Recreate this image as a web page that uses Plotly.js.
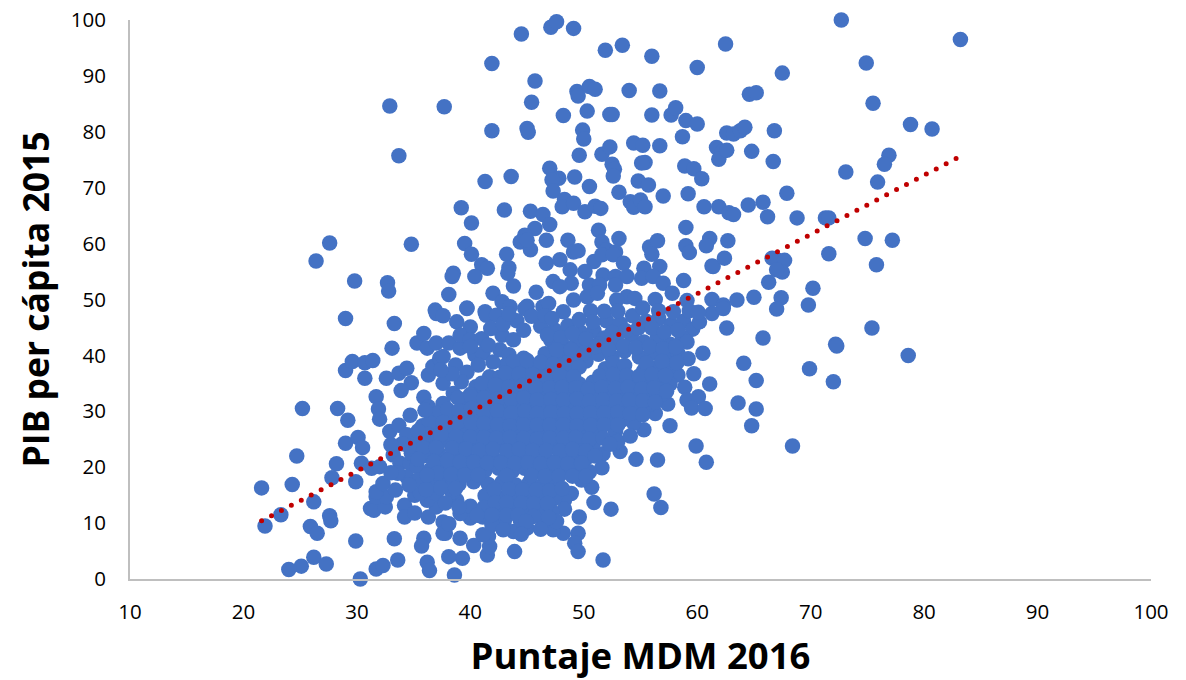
<!DOCTYPE html>
<html><head><meta charset="utf-8">
<script src="https://cdn.plot.ly/plotly-3.0.1.min.js"></script>
<style>html,body{margin:0;padding:0;background:#fff}</style></head>
<body><div id="chart" style="width:1186px;height:680px"></div>
<script>
const xAxisTitle = "Puntaje MDM 2016";
const yAxisTitle = "PIB per cápita 2015";
const puntosAltos = [[44.5,97.5],[47.1,98.7],[47.6,99.7],[49.1,98.5],[51.9,94.6],[53.4,95.5],[56,93.5],[60,91.5],[62.5,95.7],[41.9,92.2],[45.7,89.1],[49.4,87.2],[49.5,86.4],[50.5,88.1],[51,87.6],[54,87.4],[56.7,87.3],[37.7,84.5],[45.4,85.3],[48.2,82.9],[50.3,83.7],[52.3,83.1],[52.5,83.1],[56,83],[57.7,83],[58.1,84.3],[59,82],[60,81.4],[41.9,80.2],[45,80.6],[45.1,79.9],[49.9,80.3],[50,78.7],[58.7,79.1],[62.6,79.8],[61.7,77.2],[62.2,76.4],[61.9,75.1],[62.6,76.7],[49.6,75.8],[51.6,76],[52.3,77.3],[54.4,78],[55.2,77.6],[56.7,77.5],[55.4,74.5],[55.1,74.4],[52.5,74.2],[52.7,73.3],[52.6,72.1],[58.9,73.9],[59.7,73.4],[60.4,71.6],[47,73.5],[49.2,71.9],[47.8,71.7],[47.2,71.4],[47.3,69.4],[43.6,72],[41.3,71.1],[50.5,70.2],[54.8,71.2],[55.7,70.5],[53.1,69.2],[57,68.5],[59.2,68.9],[39.2,66.4],[43,66],[48.3,67.9],[48.1,66.6],[49.1,67.2],[50.1,65.7],[51,66.7],[51.5,66.3],[54.1,67.5],[54.4,66.5],[55,67.8],[55.4,66.6],[60.6,66.6],[61.9,66.6],[62.8,65.5]];
const puntosMedios = [[40.1,63.7],[45.3,65.8],[46.4,65.2],[47,63.4],[45.7,62.7],[44.8,61.5],[44.4,60.3],[45.3,58.9],[45,60.6],[46.7,60.6],[51.3,62.4],[59,62.9],[48.6,60.6],[51.6,60.3],[53.1,60.9],[49.1,58.5],[49.5,58.7],[52,58.9],[52.8,58.5],[55.8,59.4],[56.5,60.5],[56,58.1],[59,59.6],[59.3,58.4],[61.1,60.9],[60.8,59.6],[62.7,60.5],[39.5,60],[40.1,58.1],[43.2,58.1],[41,56.2],[41.5,55.6],[43.4,55.7],[43.3,54.7],[38.5,54.7],[38.4,54.1],[40.4,54.1],[43.8,52.4],[38.1,50.9],[45.8,51.3],[39.7,48.5],[46.7,56.5],[47.9,57.1],[48.8,55.3],[50.9,56.8],[51.6,58],[52.6,58],[53.5,56.5],[55.3,55.6],[56.7,55.9],[55.1,53.8],[56.1,54.1],[50.1,55],[51.7,54.4],[52.8,54.1],[53.8,54.1],[47.3,53.2],[48.9,52.9],[50.5,52.6],[51.4,52.6],[52.8,52.6],[47.9,52.3],[57,52.9],[57.8,51.1],[58.8,53.4],[59.1,49.8],[61.3,56],[61.4,55.9],[62.4,57.4],[61.3,50],[62.3,49],[53.8,50.5],[54.5,50.2],[56.3,50],[52.9,49.9],[49.1,49.9],[50.3,50.5],[51.2,51.1],[45,48.8],[46.4,48.7],[46.9,49.3],[42,51.1],[42.8,49.6],[43.5,48.7],[41.3,47.8],[36.9,48.1]];
const puntosDerecha = [[72.7,100],[74.9,92.3],[83.2,96.5],[67.5,90.5],[75.5,85.1],[64.6,86.7],[65.2,87],[63.2,79.6],[63.8,80.2],[64.2,80.8],[66.8,80.2],[78.8,81.3],[80.7,80.5],[64.8,76.5],[66.7,74.7],[76.9,75.8],[76.5,74.2],[75.9,71],[73.1,72.8],[63.2,65.2],[64.5,66.9],[65.8,67.4],[66.2,64.8],[67.9,69],[68.8,64.6],[71.3,64.6],[71.6,64.6],[74.8,60.9],[77.2,60.6],[75.8,56.2],[71.6,58.2],[66.6,57.4],[67.1,57],[67.7,57],[67.5,54.9],[67,55.3],[66.3,53.1],[67.4,50.3],[67,48.3],[65,50.4],[63.5,49.9],[69.8,49],[70.2,52],[62.6,44.9],[65.8,43.1],[75.4,44.9],[72.2,42],[72.3,41.7],[78.6,40],[64.1,38.6],[69.9,37.6],[65.2,35.5],[72,35.3],[63.6,31.5],[65.2,30.4],[64.8,27.4],[68.4,23.8],[59.9,23.8],[60.8,20.9],[60.5,40.4],[61.3,47.5],[62.3,48.4],[58.3,36.5],[59.7,36.7],[61.1,34.9],[58.9,34.3],[59.1,32],[60.1,32.6],[59.5,30.6],[60.7,30.5],[57.4,31.3],[56.3,29.6],[57.6,27.4],[55.3,26.7],[54.4,27.9],[52.8,26.4],[51.7,22.4],[51.6,19.9],[53.2,22.8],[54.6,21.4],[56.5,21.3],[56.2,15.2],[56.8,12.8],[52.4,12.5],[50.9,13.7],[50.7,16.4],[49.8,17.7],[48.9,15.3],[48.3,14.1],[48.3,12.5],[49.6,11.1],[49.5,8.2],[49.2,6.4],[49.5,4.9],[51.7,3.4],[48.2,8.2],[47.3,8.8],[46.5,10.4],[45,9.1],[43.8,8.5],[43.9,4.9],[41.5,4.3],[41.7,5.8],[41.6,7.6],[40.3,6],[39.3,3.7],[38.1,4],[38.6,0.7],[39.1,7.3],[37.8,8.2],[37.6,10.2],[42.5,10],[41.1,7.9]];
const puntosIzquierda = [[29,46.6],[33.3,45.7],[33.1,41.3],[37,47.5],[37.6,47.1],[39.7,48.4],[29,37.3],[29.6,38.9],[30.7,38.7],[31.4,39.1],[30.7,35.9],[32.6,35.9],[33.7,36.8],[34.4,37.7],[34.8,35.1],[33.9,33.7],[36.3,36.5],[36.7,38],[37.3,39.5],[35.3,42.2],[35.9,43.9],[36.2,41.3],[37,42.2],[38.1,42.2],[39.1,41.3],[37.6,39.8],[38.8,46],[40,45.1],[39.1,43.6],[41,43],[40,42.8],[41.4,47.2],[42.3,47.2],[44.8,48.4],[44.1,46.2],[42.8,43.6],[43.8,42.8],[44.7,44.5],[40.4,40.1],[41.1,40.4],[40.7,38.3],[41.7,36.2],[42.6,41],[43.4,40.1],[44.7,39.5],[37.6,35],[38.5,33.2],[37.6,31.4],[31.7,32.6],[31.9,30.4],[32,28.6],[32.9,26.4],[35.9,32.5],[36.3,30.8],[36.6,29.3],[34.7,29.3],[33.7,27.5],[34.4,25.8],[25.2,30.5],[28.3,30.5],[29.2,28.4],[29,24.3],[30.1,25.3],[30.5,23.5],[24.7,22],[28.2,20.6],[30.4,20.7],[31.3,19.8],[29.9,17.4],[27.8,18.1],[33.2,22.2],[33.8,20.7],[32,20.1],[34.7,20.7],[21.6,16.3],[24.3,16.9],[26.2,13.8],[23.3,11.5],[21.9,9.5],[27.6,11.3],[27.7,10.4],[25.9,9.4],[26.5,8.2],[29.9,6.8],[33.3,7.2],[31.2,12.6],[31.5,12.3],[32.5,12.9],[31.7,14.7],[32.6,14.7],[31.7,15.6],[34.2,13.2],[34.2,11.1],[35.1,11.8],[36.3,11.1],[37,12.9],[36.2,14.1],[35.1,15],[32.3,17.1],[34.4,18.3],[35.6,15.3],[37.6,8.2],[35.9,7.3],[35.7,5.9],[36.2,3],[36.4,1.5],[33.6,3.4],[31.7,1.8],[32.3,2.4],[30.3,0],[26.2,3.9],[25.1,2.3],[24,1.7],[27.3,2.7],[41.1,11.1],[40,10.9],[38.8,14.1],[39.1,11.7],[38.1,9.9],[27.6,60.1],[26.4,56.9],[29.8,53.3],[32.7,53],[32.8,51.5],[34.8,59.9],[33.7,75.7],[32.9,84.6]];
const nucleoSuperior = [[46.2,45.2],[47.4,44.6],[48.6,45.3],[49.7,44.2],[50.9,44.4],[52,46.2],[53.2,45.7],[54.3,47.1],[55.5,46.1],[56.6,46.6],[57.7,45.5],[58.8,46.1],[59.6,44.7],[60.2,46],[47.1,42.7],[48.3,41.6],[49.4,42.4],[50.6,41.2],[51.8,43.1],[53,42.2],[54.2,43.6],[55.3,42.4],[56.5,43.3],[57.6,42],[58.7,43.1],[46.6,40.3],[47.8,39.5],[49,39.9],[50.2,39],[51.3,40.2],[52.5,39.7],[53.6,40.8],[54.9,39.7],[56,40.4],[57.2,39.7],[58.3,40.4],[59.2,39.4],[43.1,38.2],[44.3,37.3],[45.5,38],[46.7,37.4],[47.8,37],[49,37.8],[51.9,37.6],[53.1,37.1],[55.3,37.3],[56.4,37.8],[57.6,38],[38.7,38.3],[39.7,37],[42.6,36.1],[43.7,35.4],[44.9,35.9],[46.1,35.2],[47.3,35],[48.5,35.7],[49.6,34.9],[50.8,35.2],[52,35.6],[53.2,34.9],[54.3,35.8],[55.5,35.1],[56.6,35.4],[57.6,34.9],[39.2,35.3],[40.5,34.4],[41.6,33.7],[42.8,33.4],[44,33.2],[45.2,33.6],[46.3,32.7],[47.5,33.2],[48.7,32.9],[49.9,33.4],[51,32.6],[52.2,33.4],[53.4,32.9],[54.6,33.2],[55.7,32.5],[56.9,33]];
const nucleoCentral = [[39.4,31.4],[40.6,31.8],[41.8,31.2],[43,31],[44.1,30.6],[45.3,31.2],[46.5,30.7],[47.7,31.1],[48.8,30.3],[50,31],[51.2,30.6],[52.4,31.1],[53.5,30.4],[54.7,30.8],[55.8,31.2],[37.1,29.6],[38.3,29.2],[39.5,28.9],[40.7,29.3],[41.9,28.8],[43.1,28.9],[44.2,28.3],[45.4,28.8],[46.6,28.4],[47.8,28.9],[49,28.3],[50.1,28.7],[51.3,28.4],[52.5,28.9],[53.4,28.5],[35.8,27.4],[37,26.9],[38.2,27.2],[39.4,26.6],[40.6,26.3],[41.8,26.7],[42.9,26.1],[44.1,26.6],[45.3,26.2],[46.4,26.7],[47.6,26.1],[48.8,26.5],[50,26.2],[51.2,26.6],[35.4,24.7],[36.6,24.4],[37.8,24.8],[39,24.1],[40.2,24.5],[41.4,23.9],[42.6,24.3],[43.7,24],[44.9,24.4],[46.1,23.8],[47.3,24.3],[48.4,23.9],[49.6,24.4],[50.8,23.9],[53,24.6],[54.1,25.6],[34.8,22.5],[36,22.1],[37.2,22.5],[38.4,21.9],[39.5,22.3],[40.7,21.7],[41.9,22.1],[43.1,21.6],[44.3,22.1],[45.5,21.7],[46.6,22],[47.8,21.5],[49,22],[50.2,21.6],[35.3,20.1],[36.5,19.6],[37.7,20.1],[38.9,19.5],[40.1,19.9],[41.3,19.4],[42.5,19.8],[43.7,19.3],[44.8,19.8],[46,19.3],[47.2,19.7],[48.3,19.2],[49.5,19.6],[50.5,19.2]];
const nucleoInferior = [[35.4,17.7],[36.6,17.2],[37.8,17.7],[39,17],[40.3,17.4],[41.6,16.9],[42.8,17.3],[44,16.8],[45.2,17.2],[46.4,16.8],[47.6,17.2],[37,15.3],[38.4,15.5],[41.3,14.9],[42.5,14.6],[43.8,15],[45,14.5],[46.2,14.9],[47.4,14.4],[40,13],[41.2,12.8],[42.4,12.4],[43.6,12.9],[44.8,12.3],[46,12.7],[47.2,12.1],[43,10.4],[44.4,10.5],[47.6,10.3],[41.9,9.7]];
const rellenoSuperior = [[46.8,43.6],[48,43.2],[49,43.9],[50.2,43],[51.3,42],[52.5,44.1],[53.7,44.4],[54.8,44.9],[56,44.9],[57.1,44.2],[58.3,44.5],[59.1,42.4],[47.6,41],[48.9,41],[50,40.4],[51.1,41.6],[52.2,41.1],[53.5,41.7],[54.6,41.4],[55.8,41.6],[57,41.2],[58.1,41.5],[43.8,38.9],[45,39.1],[46.2,38.8],[47.3,38.4],[48.5,38.6],[49.6,37.9],[52.6,38.6],[53.6,38.2],[55.5,38.6],[56.9,38.9],[58.2,38.7],[43.1,36.8],[44.3,36.7],[45.5,36.6],[46.7,36.1],[47.9,36.4],[49.1,36.2],[51.4,36.3],[52.6,36.6],[53.8,36.4],[54.9,36.3],[56,36.6],[57.2,36.4],[40,33],[41,35],[42.2,34.7],[43.4,34.3],[44.6,34.6],[45.8,34.2],[47,34.2],[48.1,34.3],[49.3,34.2],[50.4,34],[51.6,34.3],[52.8,34.1],[53.9,34.3],[55.1,34],[56.2,34.2],[57.3,33.6],[38.9,32.4],[40.1,32.6],[41.2,32.4],[42.4,32.2],[43.6,32.1],[44.7,32.4],[45.9,32],[47.1,32.1],[48.2,32],[49.4,32.2],[50.5,31.8],[51.7,32],[52.9,31.9],[54,32],[55.2,31.9],[56.3,31.6]];
const rellenoCentral = [[38,30.3],[39,30.1],[40.1,30.5],[41.2,30],[42.4,30],[43.6,29.7],[44.8,30],[45.9,29.6],[47.1,29.8],[48.3,29.6],[49.4,29.6],[50.6,29.7],[51.8,29.7],[53,29.8],[54.1,29.6],[55.2,29.4],[36.4,28],[37.6,28],[38.9,28],[40.1,27.8],[41.2,27.8],[42.4,27.6],[43.5,27.4],[44.7,27.6],[45.9,27.5],[47,27.5],[48.2,27.6],[49.4,27.4],[50.6,27.5],[51.8,27.6],[53,27.6],[36.2,25.9],[37.4,25.8],[38.8,25.5],[40,25.4],[41.2,25.3],[42.3,25.2],[43.5,25.3],[44.7,25.2],[45.9,25],[47,25.2],[48.2,25.2],[49.3,25.3],[50.5,25],[51.7,25.2],[52.3,24.1],[35.8,23.5],[37,23.5],[38.4,23.4],[39.6,23.3],[40.8,23],[42,23.2],[43.2,22.9],[44.3,23.2],[45.5,23],[46.7,23],[47.9,22.9],[49,23.2],[50.2,22.9],[51,22],[35.4,21.4],[36.8,21],[38,21.2],[39.1,20.9],[40.3,20.9],[41.5,20.8],[42.7,20.8],[43.9,20.7],[45.1,20.8],[46.2,20.6],[47.4,20.8],[48.6,20.6],[49.8,20.7],[37.1,18.9],[38.3,18.7],[39.5,18.6],[40.7,18.6],[43.2,18.5],[45.4,18.5],[46.6,18.4],[47.8,18.4],[49,18.4],[50.2,18.4]];
const rellenoInferior = [[36.1,16],[37.4,16.3],[38.7,16.2],[42.1,16],[43.4,16],[44.6,15.9],[45.8,15.9],[47,15.8],[48.1,16.2],[37.8,13.6],[39,12.9],[42.2,13.7],[43.2,13.7],[44.5,13.6],[45.6,13.5],[46.8,13.5],[40.6,11.4],[41.9,11.5],[43.2,11.4],[44.2,11.4],[45.6,11.2],[46.9,11],[44.9,10.3],[42.9,8.8],[44.5,8],[46.2,8.9],[33.6,18.9],[33,19],[34.6,16.8],[33.4,15.9],[36.2,18.6],[34.6,23.7],[34,24.2],[33,24],[35.4,26.5],[36,30.2],[38.4,36.7],[37.4,37.4],[40,41.6],[41.6,41.8],[42,38.8],[41.8,44.8],[42.9,45.6],[43.4,47.4],[45.4,47],[46.6,47.1],[48.2,47.8],[50.6,48],[51.8,47.9],[53,47.9],[55.2,48.5],[56.6,48],[57.9,47.8],[59.3,48],[60.1,47.7],[47.2,46.6],[49.6,46.4],[50.8,46]];
const grupos = [puntosAltos, puntosMedios, puntosDerecha, puntosIzquierda, nucleoSuperior, nucleoCentral, nucleoInferior, rellenoSuperior, rellenoCentral, rellenoInferior];
const puntaje = grupos.flat().map(p => p[0]);
const pib = grupos.flat().map(p => p[1]);
const tendenciaX = [21.6, 82.9];
const tendenciaY = [10.4, 75.3];
const xTicks = [10,20,30,40,50,60,70,80,90,100];
const yTicks = [0,10,20,30,40,50,60,70,80,90,100];

const tickFont = {family:'"Open Sans", sans-serif', size:20.5, color:'#000'};
const titleFontX = {family:'"Open Sans", sans-serif', size:36.5, color:'#000', weight:700};
const titleFontY = {family:'"Open Sans", sans-serif', size:35.5, color:'#000', weight:700};
Plotly.newPlot('chart', [
  {type:'scatter', mode:'markers', x:puntaje, y:pib, cliponaxis:false, hoverinfo:'skip',
   marker:{color:'#4472C4', size:15.5, line:{width:0}}},
  {type:'scatter', mode:'lines', x:tendenciaX, y:tendenciaY, cliponaxis:false, hoverinfo:'skip',
   line:{color:'#C00000', width:5, dash:'0px,11.19px'}}
], {
  width:1186, height:680, showlegend:false, paper_bgcolor:'#fff', plot_bgcolor:'#fff',
  margin:{l:130, r:35, t:20, b:101},
  xaxis:{range:[10,100], tickmode:'array', tickvals:xTicks, ticks:'', showgrid:false, zeroline:false,
    showline:true, linecolor:'#BFBFBF', linewidth:2, tickfont:tickFont, ticklabelstandoff:13,
    title:{text:xAxisTitle, font:titleFontX, standoff:25}},
  yaxis:{range:[0,100], tickmode:'array', tickvals:yTicks, ticks:'', showgrid:false, zeroline:false,
    showline:true, linecolor:'#BFBFBF', linewidth:2, tickfont:tickFont, ticklabelstandoff:18,
    title:{text:yAxisTitle, font:titleFontY, standoff:10}}
}, {displayModeBar:false, staticPlot:true}).then(() => {
  document.querySelectorAll('#chart .js-line').forEach(l => { l.style.strokeLinecap = 'round'; });
});
</script></body></html>
